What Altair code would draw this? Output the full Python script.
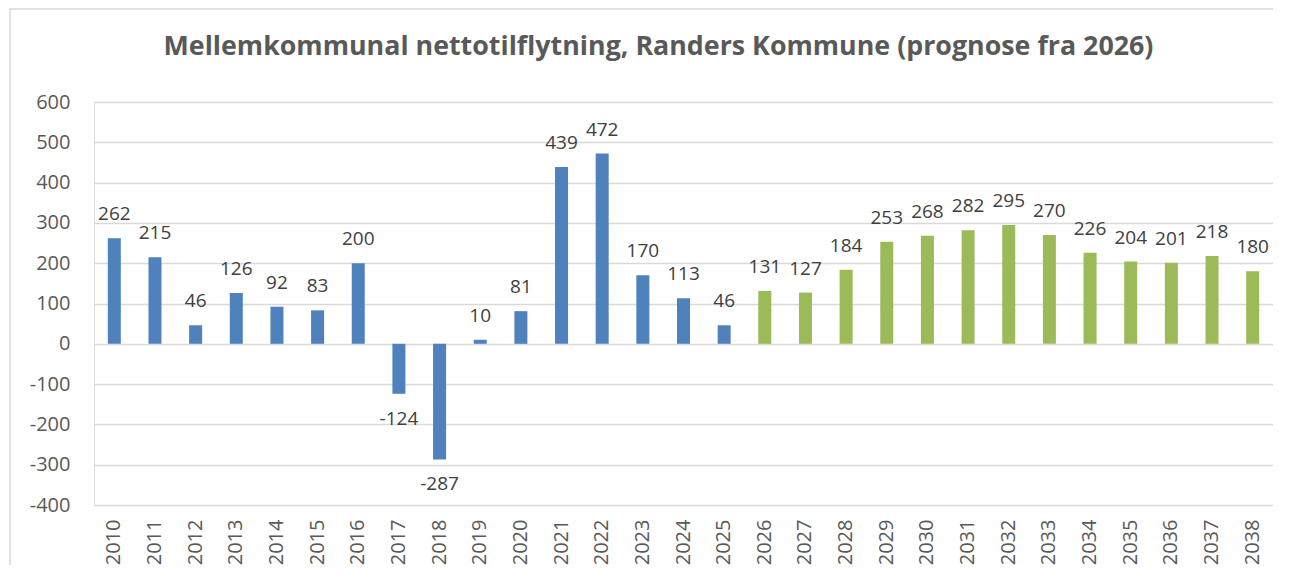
import altair as alt
import pandas as pd

years = [str(y) for y in range(2010, 2039)]
values = [262, 215, 46, 126, 92, 83, 200, -124, -287, 10, 81, 439, 472, 170, 113, 46,
          131, 127, 184, 253, 268, 282, 295, 270, 226, 204, 201, 218, 180]
periods = ["Historik"] * 16 + ["Prognose"] * 13
y_ticks = [-400, -300, -200, -100, 0, 100, 200, 300, 400, 500, 600]

df = pd.DataFrame({"year": years, "value": values, "period": periods})

FONT = "Open Sans"
W, H = 1179, 403

x_enc = alt.X("year:N", sort=years, title=None,
              scale=alt.Scale(paddingInner=0.68, paddingOuter=0.34),
              axis=alt.Axis(labelAngle=-90, labelFontSize=20, labelColor="#595959",
                            labelFont=FONT, labelPadding=14, domain=False, ticks=False,
                            grid=False))
y_enc = alt.Y("value:Q", title=None,
              scale=alt.Scale(domain=[-400, 600], nice=False),
              axis=alt.Axis(values=y_ticks, labelFontSize=20, labelColor="#595959",
                            labelFont=FONT, labelPadding=24, domain=False, ticks=False,
                            labelExpr="'' + datum.value",
                            grid=True, gridColor="#d9d9d9", gridWidth=1.5))

base = alt.Chart(df).transform_calculate(label="'' + datum.value")

border = alt.Chart(pd.DataFrame({"k": [0]})).mark_rect(
    fill=None, stroke="#d9d9d9", strokeWidth=1.5
).encode(x=alt.value(-84), x2=alt.value(1300), y=alt.value(-93), y2=alt.value(600))

bars = base.mark_bar().encode(
    x=x_enc, y=y_enc,
    color=alt.Color("period:N", scale=alt.Scale(domain=["Historik", "Prognose"],
                                                range=["#4f81bd", "#9bbb59"]), legend=None),
)

pos_labels = base.transform_filter(alt.datum.value >= 0).mark_text(
    baseline="bottom", dy=-14, fontSize=19, font=FONT, color="#404040"
).encode(x=alt.X("year:N", sort=years), y="value:Q", text="label:N")

neg_labels = base.transform_filter(alt.datum.value < 0).mark_text(
    baseline="top", dy=16, fontSize=19, font=FONT, color="#404040"
).encode(x=alt.X("year:N", sort=years), y="value:Q", text="label:N")

chart = alt.layer(border, bars, pos_labels, neg_labels).properties(
    width=W, height=H,
    title=alt.TitleParams(
        "Mellemkommunal nettotilflytning, Randers Kommune (prognose fra 2026)",
        fontSize=26.8, font=FONT, fontWeight="bold", color="#595959",
        anchor="middle", dx=-25, dy=90, offset=10, baseline="bottom"),
    autosize=alt.AutoSizeParams(type="none"),
    padding={"left": 86, "top": 94, "right": 0, "bottom": 60},
).configure_view(stroke=None).configure(background="white")

chart.save("out.html", embed_options={"renderer": "svg", "actions": False})
